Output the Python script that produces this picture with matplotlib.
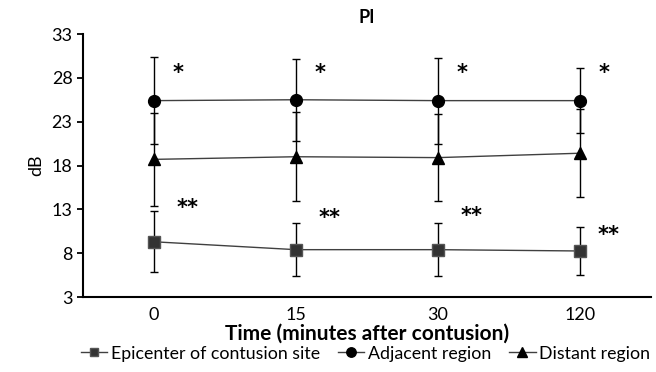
import numpy as np
import matplotlib
matplotlib.use("Agg")
import matplotlib.pyplot as plt
from matplotlib.lines import Line2D

times = ["0", "15", "30", "120"]
epicenter = [9.3, 8.4, 8.4, 8.25]
epicenter_err = [3.5, 3.0, 3.0, 2.7]
adjacent = [25.4, 25.5, 25.4, 25.4]
adjacent_err = [5.0, 4.7, 4.9, 3.7]
distant = [18.7, 19.0, 18.9, 19.4]
distant_err = [5.3, 5.1, 5.0, 5.0]
yticks = [3, 8, 13, 18, 23, 28, 33]

# significance marks: y level per time point
star_adj = [28.6, 28.6, 28.6, 28.6]
star_epi = [13.2, 12.0, 12.2, 10.1]

plt.rcParams["font.family"] = ["Lato", "DejaVu Sans"]

fig = plt.figure(figsize=(6.56, 3.72), dpi=100)
ax = fig.add_axes([0.1265, 0.2016, 0.8655, 0.707])
x = np.arange(len(times))

series = [
    (epicenter, epicenter_err, "s", "#333333", "Epicenter of contusion site", 8),
    (adjacent, adjacent_err, "o", "black", "Adjacent region", 8.5),
    (distant, distant_err, "^", "black", "Distant region", 9),
]
for y, e, m, c, lab, ms in series:
    ax.errorbar(x, y, yerr=e, fmt="none", ecolor="black", elinewidth=1,
                capsize=3, capthick=1, zorder=2)
    ax.plot(x, y, color="#404040", lw=1, zorder=3)
    ax.plot(x, y, ls="none", marker=m, ms=ms, color=c, mec="#555555" if m == "s" else c,
            mew=1, zorder=4)

for i in range(len(times)):
    ax.text(x[i] + 0.17, star_adj[i], "*", ha="center", va="center",
            fontsize=15, fontweight="bold", family="DejaVu Sans")
    ax.text(x[i] + (0.2 if i == 3 else 0.24), star_epi[i], "**", ha="center",
            va="center", fontsize=15, fontweight="bold", family="DejaVu Sans")

ax.set_xlim(-0.5, 3.5)
ax.set_ylim(3, 33)
ax.set_yticks(yticks)
ax.set_xticks(x)
ax.set_xticklabels(times)
ax.tick_params(axis="x", length=0, labelsize=13, pad=7)
ax.tick_params(axis="y", length=4, width=1.3, labelsize=13, direction="out")
for s in ["top", "right"]:
    ax.spines[s].set_visible(False)
for s in ["left", "bottom"]:
    ax.spines[s].set_linewidth(1.5)

ax.set_title("PI", fontsize=13, fontweight="bold", pad=8)
ax.set_ylabel("dB", fontsize=13, labelpad=5)
ax.set_xlabel("Time (minutes after contusion)", fontsize=15, fontweight="bold",
              labelpad=1)

handles = [Line2D([], [], color="#404040", lw=1, marker=m, ms=ms * 0.8, mfc=c,
                  mec="#555555" if m == "s" else c)
           for _, _, m, c, _, ms in series]
labels = [s[4] for s in series]
fig.legend(handles, labels, loc="lower center", bbox_to_anchor=(0.557, -0.015),
           ncol=3, frameon=False, fontsize=12.8, handlelength=1.5,
           handletextpad=0.2, columnspacing=1.0)

fig.savefig("out.png", dpi=100)
